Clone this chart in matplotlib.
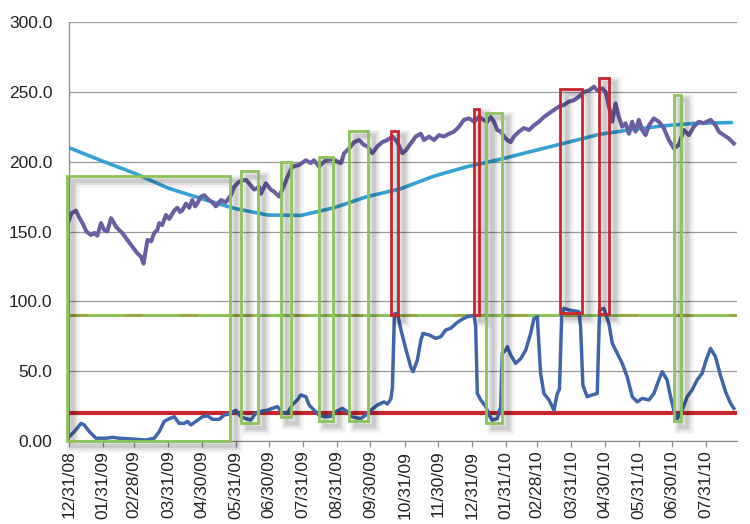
import matplotlib
matplotlib.use("Agg")
import matplotlib.pyplot as plt
import matplotlib.dates as mdates
import matplotlib.patheffects as pe
from matplotlib.patches import Rectangle
from matplotlib.ticker import FixedLocator, FixedFormatter
import pandas as pd

# ---------------- data ----------------
origin = "2008-12-31"   # day offsets below are counted from this date

price_days = [0, 2.1, 6.3, 9.3, 12.9, 15.7, 19.9, 22.9, 25.6, 29.0,
              31.9, 34.7, 38.0, 40.1, 42.5, 45.5, 48.2, 52.8, 57.6, 61.8,
              65.2, 67.5, 69.0, 71.1, 74.5, 77.2, 79.9, 81.7, 84.4, 87.8,
              90.8, 95.3, 98.0, 100.7, 102.5, 105.9, 108.9, 111.6, 114.3, 116.1,
              119.5, 122.4, 126.1, 129.7, 133.0, 137.6, 142.1, 146.6, 149.6, 154.1,
              160.2, 164.7, 167.7, 172.2, 173.8, 178.3, 182.8, 185.8, 190.3, 194.8,
              197.8, 202.4, 208.4, 214.5, 219.0, 222.0, 226.5, 229.5, 232.6, 238.6,
              243.1, 246.4, 249.1, 253.7, 258.2, 262.7, 267.2, 270.2, 274.7, 279.3,
              283.8, 288.3, 292.9, 297.4, 301.9, 305.0, 309.5, 314.0, 318.6, 321.5,
              326.1, 330.6, 335.1, 339.6, 344.2, 348.7, 353.2, 357.7, 362.3, 366.8,
              371.3, 375.8, 378.8, 381.9, 384.9, 387.9, 391.0, 394.0, 396.9, 400.0,
              403.0, 407.5, 412.0, 416.6, 421.1, 425.6, 430.1, 434.7, 439.2, 443.7,
              448.2, 452.8, 457.3, 461.8, 466.3, 470.9, 475.4, 478.4, 482.9, 486.0,
              489.0, 492.0, 495.0, 498.0, 501.0, 504.1, 507.1, 510.0, 513.1, 516.1,
              519.1, 522.2, 525.2, 529.7, 534.2, 538.7, 543.3, 547.8, 552.3, 556.8,
              561.4, 565.9, 570.4, 574.9, 581.0, 585.5, 588.5, 593.0, 597.5, 602.1]
price_vals = [158, 163, 165, 160, 155, 150, 147.5, 149, 147, 156,
              151, 150, 159.5, 157, 153.5, 151, 149, 144, 139, 134.5,
              132, 127, 134, 144, 143, 149, 151, 156, 154.6, 161.8,
              159, 165, 167, 164, 165, 170, 167, 172.5, 168, 170,
              175, 176, 173, 171, 168, 172.5, 171, 176, 182, 185.7,
              187, 183, 180, 182, 177, 184.5, 180, 178.5, 175, 183,
              189, 196.5, 197.6, 201, 199, 201, 196.5, 199, 201, 202,
              200, 199, 206, 209.5, 214, 215.5, 212, 211, 206, 211,
              214, 215.5, 218, 214, 206, 208, 213, 218, 220, 215.5,
              218, 215.5, 219, 218, 220, 221.5, 225, 230, 231, 228.6,
              232, 229.8, 228.6, 232, 228.6, 222.7, 221.5, 218, 215.5, 214,
              218, 221.5, 224, 222.7, 226, 228.6, 232, 234.6, 237, 239.5,
              240.6, 243, 244, 246.5, 250, 251, 253.7, 251, 252.5, 250,
              239.5, 228.6, 241.7, 232, 225, 227.5, 220, 228.6, 221.5, 230,
              222.7, 219, 226, 231, 228.6, 224, 215.5, 209.5, 212, 222.7,
              219, 225, 228.6, 227.5, 230, 226, 221.5, 219, 216.7, 213]

osc_days = [0, 4.8, 10.9, 13.8, 18.4, 24.4, 33.5, 39.5, 45.5, 57.6,
            69.7, 77.2, 81.7, 86.2, 90.8, 95.3, 99.8, 104.3, 107.3, 110.4,
            114.9, 120.9, 125.4, 130.0, 136.0, 140.5, 145.0, 151.1, 155.7, 160.2,
            164.7, 169.2, 175.2, 179.5, 184.3, 188.8, 193.3, 197.8, 202.4, 206.9,
            210.0, 214.5, 217.5, 222.0, 226.5, 231.0, 236.5, 241.6, 247.6, 252.1,
            255.5, 264.3, 268.8, 273.3, 279.3, 285.3, 288.3, 291.4, 292.9, 294.7,
            297.6, 300.5, 305.0, 309.5, 311.6, 315.5, 318.6, 320.6, 326.0, 332.1,
            336.7, 341.2, 345.7, 350.2, 354.8, 360.7, 366.8, 368.3, 369.8, 372.9,
            377.4, 380.4, 383.3, 387.9, 391.0, 392.4, 395.5, 397.0, 400.0, 404.5,
            409.1, 413.6, 418.1, 421.1, 424.1, 427.1, 430.1, 434.7, 439.2, 442.2,
            444.2, 446.2, 448.2, 452.8, 461.8, 463.3, 465.4, 469.3, 473.8, 478.4,
            480.5, 484.4, 489.0, 492.0, 496.5, 501.0, 505.5, 510.1, 514.6, 519.1,
            525.2, 529.7, 534.2, 537.2, 541.7, 544.8, 547.8, 550.8, 555.3, 559.8,
            564.3, 568.9, 573.4, 576.5, 581.0, 585.5, 590.0, 594.6, 599.1, 602.1]
osc_vals = [3, 6.7, 12.6, 11.5, 6.7, 2, 2, 2.6, 2, 1.4,
            0.7, 2, 6.7, 14, 16, 17.4, 12.6, 12.6, 14, 11.5,
            14, 17.4, 18, 15.5, 15.5, 18.6, 19.3, 22, 17.4, 16,
            15, 20, 21.5, 22, 23.4, 24.6, 19.8, 20, 26, 29.5,
            33, 31.7, 25.8, 22, 18.6, 17.4, 17.4, 21, 23.4, 21,
            17.4, 16, 18.6, 22, 25.8, 28, 26.5, 30, 38, 91,
            91, 80, 66, 53, 49.6, 58, 72, 77, 76, 73.5,
            74.7, 79.5, 80.7, 84, 86.6, 89, 90, 82, 34, 29.4,
            24.6, 18.6, 15, 16, 24.6, 62.8, 65, 67.5, 61.6, 55.6,
            59, 65, 77, 87.8, 89, 48.5, 34, 29.4, 22, 34,
            37, 90, 95, 93.8, 92.6, 82, 40, 31.7, 33, 34,
            93.8, 95, 84, 70, 62.8, 55.6, 46, 31.7, 28, 30.5,
            29.4, 34, 43.7, 49.6, 43.7, 31.7, 22, 16, 22, 31.7,
            36.5, 43.7, 48.5, 56.8, 66.3, 60.3, 47, 35.3, 27, 23.4]

ma_step = "30D"
ma = [210, 200.5, 191.5, 181, 173.5, 166.5, 161.8, 161.5, 167, 175,
      180.5, 189.5, 196.3, 201.6, 207.6, 213.5, 219.5, 223, 225.8, 227.6, 228]

upper_level = 90
lower_level = 20

box_start = ["2008-12-29", "2009-06-05", "2009-07-11", "2009-08-14", "2009-09-11",
             "2009-10-19", "2010-01-02", "2010-01-13", "2010-03-21", "2010-04-25",
             "2010-07-02"]
box_end = ["2009-05-26", "2009-06-20", "2009-07-20", "2009-08-27", "2009-09-28",
           "2009-10-25", "2010-01-06", "2010-01-27", "2010-04-10", "2010-05-04",
           "2010-07-08"]
box_bottom = [0, 13, 17, 14.5, 14.5, 90, 90, 13, 92, 91, 14]
box_top = [190, 193, 200, 203, 222, 222, 238, 235, 252, 260, 248]
box_kind = ["g", "g", "g", "g", "g", "r", "r", "g", "r", "r", "g"]

tick_dates = ["2008-12-31", "2009-01-31", "2009-02-28", "2009-03-31", "2009-04-30",
              "2009-05-31", "2009-06-30", "2009-07-31", "2009-08-31", "2009-09-30",
              "2009-10-31", "2009-11-30", "2009-12-31", "2010-01-31", "2010-02-28",
              "2010-03-31", "2010-04-30", "2010-05-31", "2010-06-30", "2010-07-31"]
tick_labels = ["12/31/08", "01/31/09", "02/28/09", "03/31/09", "04/30/09",
               "05/31/09", "06/30/09", "07/31/09", "08/31/09", "09/30/09",
               "10/31/09", "11/30/09", "12/31/09", "01/31/10", "02/28/10",
               "03/31/10", "04/30/10", "05/31/10", "06/30/10", "07/31/10"]
yticks = [0, 50, 100, 150, 200, 250, 300]
ytick_labels = ["0.00", "50.0", "100.0", "150.0", "200.0", "250.0", "300.0"]

# ---------------- plot ----------------
plt.rcParams["font.family"] = ["Liberation Sans", "DejaVu Sans"]

fig = plt.figure(figsize=(7.5, 5.24), dpi=100)
ax = fig.add_axes([0.092, 0.1584, 0.8907, 0.7996])

t0 = pd.Timestamp(origin)
price_dates = [t0 + pd.Timedelta(days=d) for d in price_days]
osc_dates = [t0 + pd.Timedelta(days=d) for d in osc_days]
ma_dates = pd.date_range(origin, periods=len(ma), freq=ma_step)

C_PURPLE = "#6a5fa3"
C_MA = "#35a2d4"
C_OSC = "#3f66aa"
C_GREEN = "#8cc35a"
C_RED = "#c8252f"

ax.set_axisbelow(True)
ax.yaxis.grid(True, color="#9a9a9a", linewidth=0.9)

ax.plot(ma_dates, ma, color=C_MA, linewidth=2.6, solid_capstyle="round", zorder=3)
ax.plot(price_dates, price_vals, color=C_PURPLE, linewidth=2.9,
        solid_joinstyle="round", zorder=3)
ax.axhline(upper_level, color=C_GREEN, linewidth=2.2, zorder=3)
ax.axhline(upper_level, color="#a8923a", linewidth=2.2, alpha=0.55,
           dashes=(6, 12), zorder=3.1)
ax.axhline(lower_level, color=C_RED, linewidth=3.0, zorder=3)
ax.plot(osc_dates, osc_vals, color=C_OSC, linewidth=2.5,
        solid_joinstyle="round", zorder=4)

shadow = [
    pe.Stroke(offset=(4.5, -3.8), linewidth=9, foreground="black", alpha=0.05),
    pe.Stroke(offset=(4.5, -3.8), linewidth=6, foreground="black", alpha=0.07),
    pe.Stroke(offset=(4.5, -3.8), linewidth=3, foreground="black", alpha=0.09),
    pe.Normal(),
]
for s, e, b, t, k in zip(box_start, box_end, box_bottom, box_top, box_kind):
    x0 = mdates.date2num(pd.Timestamp(s))
    x1 = mdates.date2num(pd.Timestamp(e))
    r = Rectangle((x0, b), x1 - x0, t - b, fill=False,
                  edgecolor=C_GREEN if k == "g" else C_RED,
                  linewidth=2.0, zorder=5, clip_on=False)
    r.set_path_effects(shadow)
    ax.add_patch(r)

ax.set_ylim(0, 300)
ax.set_xlim(mdates.date2num(pd.Timestamp("2008-12-31")),
            mdates.date2num(pd.Timestamp("2010-08-28")))

ax.yaxis.set_major_locator(FixedLocator(yticks))
ax.yaxis.set_major_formatter(FixedFormatter(ytick_labels))
tick_nums = [mdates.date2num(pd.Timestamp(d)) for d in tick_dates]
ax.xaxis.set_major_locator(FixedLocator(tick_nums))
ax.xaxis.set_major_formatter(FixedFormatter(tick_labels))

ax.tick_params(axis="y", length=0, pad=12, labelsize=12.5, labelcolor="#222222")
ax.tick_params(axis="x", length=4, width=0.9, color="#8a8a8a", pad=3,
               labelsize=12.5, labelcolor="#222222", labelrotation=90)

for side in ["top", "right"]:
    ax.spines[side].set_visible(False)
ax.spines["left"].set_color("#8a8a8a")
ax.spines["bottom"].set_color("#8a8a8a")
ax.spines["left"].set_linewidth(0.9)
ax.spines["bottom"].set_linewidth(0.9)

fig.savefig("out.png", dpi=100)
